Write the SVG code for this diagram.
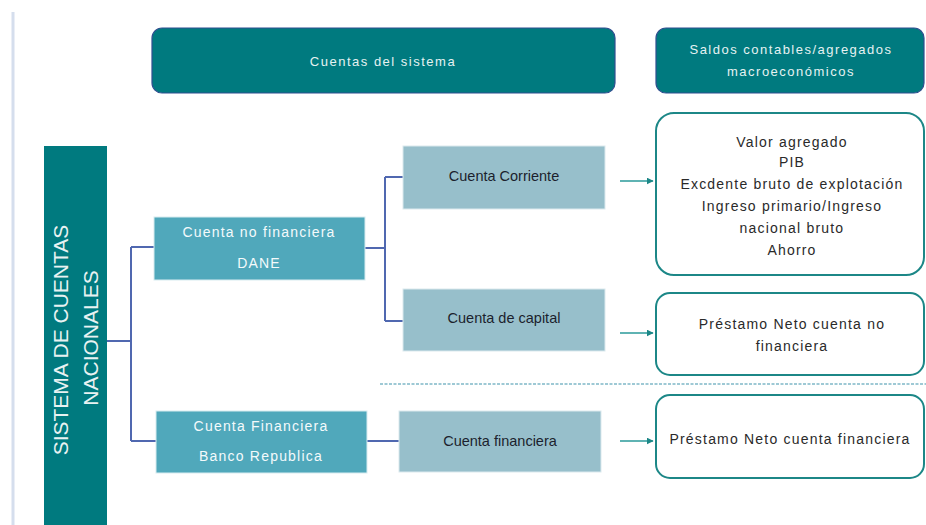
<svg xmlns="http://www.w3.org/2000/svg" width="926" height="525" viewBox="0 0 926 525">
<defs>
<style>
.hdr{fill:#007a7f;stroke:#2f4f8f;stroke-width:1.2}
.hdrt{font-family:"Liberation Sans",Arial,sans-serif;font-size:13px;fill:#e6f2f2;text-anchor:middle;letter-spacing:1.5px}
.lvl1{fill:#50a8bb;stroke:#d8ecf0;stroke-width:1}
.lvl1t{font-family:"Liberation Sans",Arial,sans-serif;font-size:14px;fill:#f4fafb;text-anchor:middle;letter-spacing:1.2px}
.lvl2{fill:#97bfcb;stroke:#dbe9ee;stroke-width:1}
.lvl2t{font-family:"Liberation Sans",Arial,sans-serif;font-size:14.5px;fill:#1c1f2e;text-anchor:middle}
.res{fill:#ffffff;stroke:#1c8787;stroke-width:2}
.rest{font-family:"Liberation Sans",Arial,sans-serif;font-size:14px;fill:#2a2a2a;text-anchor:middle;letter-spacing:1.2px}
.tree{fill:none;stroke:#5068b0;stroke-width:2}
.arr{fill:none;stroke:#2a9a9a;stroke-width:1.3}
</style>
<marker id="ah" viewBox="0 0 10 10" refX="9" refY="5" markerWidth="7" markerHeight="7" orient="auto" markerUnits="userSpaceOnUse">
<path d="M0,0 L10,5 L0,10 z" fill="#1c8787"/>
</marker>
</defs>
<rect width="926" height="525" fill="#ffffff"/>
<line x1="13" y1="12" x2="13" y2="525" stroke="#d5deed" stroke-width="3"/>

<g id="hdr-cuentas">
<rect class="hdr" x="152" y="28" width="463" height="65" rx="10"/>
<text class="hdrt" x="383" y="66">Cuentas del sistema</text>
</g>
<g id="hdr-saldos">
<rect class="hdr" x="656" y="28" width="268" height="65" rx="10"/>
<text class="hdrt" x="791" y="54">Saldos contables/agregados</text>
<text class="hdrt" x="791" y="76">macroeconómicos</text>
</g>

<g id="sistema">
<rect x="44" y="146" width="63" height="379" fill="#007a7f"/>
<text transform="translate(68,340) rotate(-90)" font-family="Liberation Sans,Arial,sans-serif" font-size="21" fill="#e8f2f2" text-anchor="middle">SISTEMA DE CUENTAS</text>
<text transform="translate(98,338) rotate(-90)" font-family="Liberation Sans,Arial,sans-serif" font-size="21" fill="#e8f2f2" text-anchor="middle">NACIONALES</text>
</g>

<g id="connectors">
<path class="tree" d="M107,341 H131 M131,247 V441 M131,247 H155 M131,441 H156"/>
<path class="tree" d="M365,248 H385 M385,177 V321 M385,177 H403 M385,321 H403"/>
<path class="tree" d="M367,441 H399"/>
<line class="arr" x1="620" y1="181" x2="653" y2="181" marker-end="url(#ah)"/>
<line class="arr" x1="620" y1="333" x2="653" y2="333" marker-end="url(#ah)"/>
<line class="arr" x1="620" y1="441" x2="653" y2="441" marker-end="url(#ah)"/>
<line x1="380" y1="384" x2="926" y2="384" stroke="#7fb8c8" stroke-width="1.5" stroke-dasharray="3,1.5"/>
</g>

<g id="cuenta-no-financiera">
<rect class="lvl1" x="154" y="217" width="211" height="63"/>
<text class="lvl1t" x="259" y="237">Cuenta no financiera</text>
<text class="lvl1t" x="259" y="268">DANE</text>
</g>
<g id="cuenta-financiera-br">
<rect class="lvl1" x="156" y="411" width="211" height="62"/>
<text class="lvl1t" x="261" y="431">Cuenta Financiera</text>
<text class="lvl1t" x="261" y="461">Banco Republica</text>
</g>

<g id="cuenta-corriente">
<rect class="lvl2" x="403" y="146" width="202" height="63"/>
<text class="lvl2t" x="504" y="181">Cuenta Corriente</text>
</g>
<g id="cuenta-capital">
<rect class="lvl2" x="403" y="289" width="202" height="62"/>
<text class="lvl2t" x="504" y="323">Cuenta de capital</text>
</g>
<g id="cuenta-financiera">
<rect class="lvl2" x="399" y="411" width="202" height="61"/>
<text class="lvl2t" x="500" y="446">Cuenta financiera</text>
</g>

<g id="res-corriente">
<rect class="res" x="656" y="113" width="268" height="162" rx="18"/>
<text class="rest" x="792" y="147">Valor agregado</text>
<text class="rest" x="792" y="167">PIB</text>
<text class="rest" x="792" y="189">Excdente bruto de explotación</text>
<text class="rest" x="792" y="211">Ingreso primario/Ingreso</text>
<text class="rest" x="792" y="233">nacional bruto</text>
<text class="rest" x="792" y="255">Ahorro</text>
</g>
<g id="res-capital">
<rect class="res" x="656" y="293" width="268" height="82" rx="14"/>
<text class="rest" x="792" y="329">Préstamo Neto cuenta no</text>
<text class="rest" x="792" y="351">financiera</text>
</g>
<g id="res-financiera">
<rect class="res" x="656" y="395" width="268" height="83" rx="14"/>
<text class="rest" x="790" y="444">Préstamo Neto cuenta financiera</text>
</g>
</svg>
